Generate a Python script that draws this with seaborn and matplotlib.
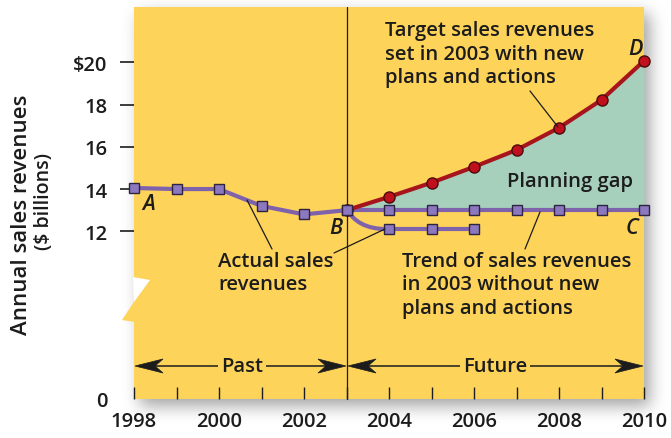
import numpy as np
import pandas as pd
import seaborn as sns
import matplotlib
matplotlib.use("Agg")
import matplotlib.pyplot as plt
from matplotlib.patches import Polygon
from matplotlib.path import Path
from matplotlib.patches import PathPatch
from matplotlib.transforms import Affine2D

# ---------------- data ----------------
years_actual = [1998, 1999, 2000, 2001, 2002, 2003]
sales_actual = [14.05, 14.0, 14.0, 13.2, 12.8, 13.0]

years_trend = [2003, 2004, 2005, 2006, 2007, 2008, 2009, 2010]
sales_trend = [13.0, 13.0, 13.0, 13.0, 13.0, 13.0, 13.0, 13.0]

years_drop = [2004, 2005, 2006]
sales_drop = [12.1, 12.1, 12.1]

years_target = [2003, 2004, 2005, 2006, 2007, 2008, 2009, 2010]
sales_target = [13.0, 13.63, 14.3, 15.05, 15.85, 16.9, 18.22, 20.07]

year_ticks = [1998, 2000, 2002, 2004, 2006, 2008, 2010]
value_ticks = [12, 14, 16, 18, 20]
value_labels = ["12", "14", "16", "18", "$20"]

# ---------------- style ----------------
YELLOW = "#FDD35A"
TEAL = "#A6D0BC"
PURPLE = "#7F62AC"
PURPLE_FACE = "#8C78BE"
PURPLE_EDGE = "#2E2440"
RED = "#A8141C"
RED_FACE = "#C0101E"
RED_EDGE = "#4A0A0A"
INK = "#1c1c1c"

sns.set_theme(style="white")
plt.rcParams["font.family"] = ["Open Sans", "DejaVu Sans"]
plt.rcParams["font.weight"] = "semibold"

W, H = 671, 439
fig = plt.figure(figsize=(W / 100, H / 100), dpi=100)
fig.patch.set_facecolor("white")
pxT = Affine2D().scale(1 / W, -1 / H).translate(0, 1) + fig.transFigure

# panel geometry (pixels)
L, R, T, B = 134, 644, 8, 400

# ---- drop shadow (background axes) ----
bg = fig.add_axes([0, 0, 1, 1], zorder=-5)
bg.set_axis_off()
mask = np.zeros((H, W))
dx, dy = 6, 7
mask[T + dy:B + dy, L + dx:R + dx] = 1.0
k = np.exp(-0.5 * (np.arange(-24, 25) / 8.0) ** 2)
k /= k.sum()
blur = np.apply_along_axis(lambda r: np.convolve(r, k, mode="same"), 1, mask)
blur = np.apply_along_axis(lambda c: np.convolve(c, k, mode="same"), 0, blur)
rgba = np.zeros((H, W, 4))
rgba[..., :3] = 0.35
rgba[..., 3] = blur * 0.55
bg.imshow(rgba, extent=[0, 1, 0, 1], aspect="auto", interpolation="bilinear")
bg.set_xlim(0, 1)
bg.set_ylim(0, 1)

# ---- main axes ----
ax = fig.add_axes([L / W, (H - B) / H, (R - L) / W, (B - T) / H], zorder=1)
ax.set_facecolor(YELLOW)
for s in ax.spines.values():
    s.set_visible(False)

ppu = (232.3 - 63.3) / 8.0  # pixels per unit
y_bottom = 12 - (B - 232.3) / ppu
y_top = 20 + (63.3 - T) / ppu
ax.set_xlim(1998, 2010)
ax.set_ylim(y_bottom, y_top)

# planning gap fill
ax.fill_between(years_target, sales_trend, sales_target, color=TEAL, lw=0, zorder=1)

# 2003 divider
ax.axvline(2003, color=INK, lw=0.9, zorder=2)

# curve from B down to lower actual branch
verts = [(2003, sales_actual[-1]), (2003.2, 12.5), (2003.4, sales_drop[0]), (years_drop[0], sales_drop[0])]
codes = [Path.MOVETO, Path.CURVE4, Path.CURVE4, Path.CURVE4]
ax.add_patch(PathPatch(Path(verts, codes), fill=False, ec=PURPLE, lw=3, zorder=3, capstyle="round"))

df_trend = pd.DataFrame({"year": years_trend, "sales": sales_trend})
df_drop = pd.DataFrame({"year": years_drop, "sales": sales_drop})
df_actual = pd.DataFrame({"year": years_actual, "sales": sales_actual})
df_target = pd.DataFrame({"year": years_target, "sales": sales_target})

sq = dict(marker="s", markersize=7.5, markerfacecolor=PURPLE_FACE,
          markeredgecolor=PURPLE_EDGE, markeredgewidth=1.0, color=PURPLE, lw=3)
sns.lineplot(data=df_trend, x="year", y="sales", ax=ax, zorder=3, **sq)
sns.lineplot(data=df_drop, x="year", y="sales", ax=ax, zorder=3, **sq)
sns.lineplot(data=df_target, x="year", y="sales", ax=ax, zorder=4, marker="o",
             markersize=8, markerfacecolor=RED_FACE, markeredgecolor=RED_EDGE,
             markeredgewidth=1.0, color=RED, lw=3)
sns.lineplot(data=df_actual, x="year", y="sales", ax=ax, zorder=5, **sq)
for ln in ax.lines:
    ln.set_clip_on(False)
    ln.set_solid_capstyle("round")

# ticks
ax.set_xticks(list(range(1998, 2011)), minor=False)
ax.set_xticklabels([str(y) if y in year_ticks else "" for y in range(1998, 2011)])
ax.set_yticks([y_bottom] + value_ticks)
ax.set_yticklabels(["0"] + value_labels)
ax.tick_params(axis="x", which="both", direction="in", length=9, width=1,
               color=INK, pad=9, labelsize=14.5, labelcolor=INK, bottom=True)
ax.tick_params(axis="y", direction="out", length=10, width=1.2, color=INK,
               pad=9, labelsize=14.5, labelcolor=INK, left=True)
ax.yaxis.get_major_ticks()[0].tick1line.set_visible(False)
for lab in ax.get_xticklabels() + ax.get_yticklabels():
    lab.set_fontweight("semibold")
ax.set_xlabel("")
ax.set_ylabel("")
ax.grid(False)

# leader lines (in pixels)
def lead(p1, p2):
    fig.add_artist(plt.Line2D([p1[0], p2[0]], [p1[1], p2[1]], transform=pxT,
                              color=INK, lw=0.9, zorder=6))

lead((247, 201), (272, 250))
lead((334, 254), (385, 230))
lead((530, 92), (558, 128))
lead((540, 213), (525, 250))

# texts
fs = 14.6

def txt(x, y, s, **kw):
    kw.setdefault("fontsize", fs)
    kw.setdefault("color", INK)
    kw.setdefault("fontweight", "semibold")
    fig.text(x, y, s, transform=pxT, va="baseline", zorder=7, **kw)

for i, s in enumerate(["Target sales revenues", "set in 2003 with new", "plans and actions"]):
    txt(385, 36 + i * 23.5, s)
txt(507, 187, "Planning gap")
txt(218, 267, "Actual sales")
txt(218, 290, "revenues")
for i, s in enumerate(["Trend of sales revenues", "in 2003 without new", "plans and actions"]):
    txt(402, 267 + i * 23.3, s)

for (x, y, s) in [(149, 210, "A"), (336, 234, "B"), (632, 234, "C"), (635, 55, "D")]:
    txt(x, y, s, ha="center", fontstyle="italic", fontsize=15.5)

# Past / Future arrows
AY = 367

def arrow(x0, x1, label, cx):
    fig.add_artist(plt.Line2D([x0 + 10, x1 - 10], [AY, AY], transform=pxT, color=INK, lw=1.1, zorder=6))
    for tip, sgn in [(x0, 1), (x1, -1)]:
        fig.add_artist(Polygon([(tip, AY), (tip + sgn * 28, AY - 7), (tip + sgn * 20, AY),
                                (tip + sgn * 28, AY + 7)], closed=True, transform=pxT,
                               fc=INK, ec=INK, lw=0.5, zorder=6))
    fig.text(cx, AY, label, transform=pxT, ha="center", va="center", fontsize=fs,
             fontweight="semibold", color=INK, zorder=7,
             bbox=dict(boxstyle="square,pad=0.15", fc=YELLOW, ec="none"))

arrow(135, 346, "Past", 242)
arrow(348, 643, "Future", 495)

# broken-axis notch on the left edge
fig.add_artist(Polygon([(133, 278), (150, 281), (134, 303)], closed=True, transform=pxT,
                       fc="white", ec="none", zorder=4))
fig.add_artist(Polygon([(134.5, 302), (122, 321), (134.5, 323)], closed=True, transform=pxT,
                       fc=YELLOW, ec="none", zorder=4))

# y-axis title
fig.text(22, 215, "Annual sales revenues", transform=pxT, rotation=90, ha="center",
         va="center", fontsize=16, fontweight="semibold", color=INK)
fig.text(44, 202, "($ billions)", transform=pxT, rotation=90, ha="center",
         va="center", fontsize=14, fontweight="semibold", color=INK)

fig.savefig("out.png", dpi=100, facecolor="white")
